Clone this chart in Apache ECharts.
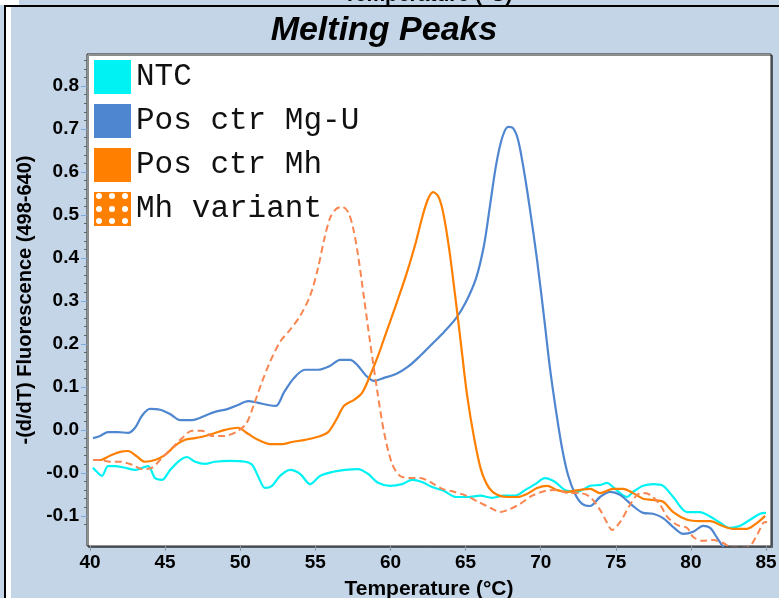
<!DOCTYPE html>
<html>
<head>
<meta charset="utf-8">
<script src="https://cdn.jsdelivr.net/npm/echarts@6/dist/echarts.min.js"></script>
<style>
html,body{margin:0;padding:0;background:#fff;}
#chart{width:779px;height:598px;}
</style>
</head>
<body>
<div id="chart"></div>
<script>
// ---- data (temperature °C, -(d/dT) fluorescence) ----
var seriesNames = ['NTC', 'Pos ctr Mg-U', 'Pos ctr Mh', 'Mh variant'];

var ntc = [
[40.2,-0.038],[40.47,-0.048],[40.8,-0.057],[41.2,-0.034],[41.66,-0.034],[42.33,-0.038],[43.0,-0.043],
[43.86,-0.034],[44.33,-0.062],[44.8,-0.066],[45.33,-0.043],[46.0,-0.020],[46.46,-0.013],[47.0,-0.024],
[47.66,-0.029],[48.32,-0.024],[49.32,-0.022],[50.32,-0.024],[50.79,-0.031],[51.18,-0.057],[51.65,-0.085],
[52.12,-0.080],[52.65,-0.057],[53.32,-0.043],[53.98,-0.052],[54.65,-0.076],[55.31,-0.057],[56.11,-0.048],
[56.98,-0.043],[57.84,-0.041],[58.5,-0.052],[59.17,-0.073],[59.97,-0.080],[60.77,-0.076],[61.44,-0.066],
[62.1,-0.071],[62.77,-0.083],[63.57,-0.092],[64.37,-0.106],[65.17,-0.106],[65.97,-0.103],[66.76,-0.108],
[67.56,-0.103],[68.3,-0.103],[68.96,-0.090],[69.63,-0.076],[70.29,-0.062],[70.96,-0.071],[71.62,-0.090],
[72.42,-0.094],[73.29,-0.080],[73.95,-0.078],[74.42,-0.073],[74.82,-0.083],[75.75,-0.106],[76.15,-0.094],
[76.82,-0.080],[77.48,-0.076],[78.15,-0.080],[78.82,-0.106],[79.75,-0.141],[80.6,-0.141],[81.3,-0.152],
[81.95,-0.166],[82.6,-0.178],[83.28,-0.173],[83.94,-0.159],[84.6,-0.145],[85.0,-0.143]
];

var posMgU = [
[40.2,0.031],[40.67,0.036],[41.2,0.045],[41.86,0.045],[42.53,0.043],[43.0,0.055],[43.46,0.083],[43.99,0.099],
[44.66,0.097],[45.33,0.087],[46.0,0.073],[46.8,0.073],[47.66,0.083],[48.32,0.092],[49.19,0.099],[49.85,0.108],
[50.52,0.117],[51.18,0.113],[51.85,0.108],[52.38,0.106],[52.92,0.138],[53.58,0.171],[54.31,0.190],[55.18,0.190],
[55.98,0.199],[56.64,0.213],[57.31,0.213],[57.84,0.199],[58.38,0.176],[58.91,0.164],[59.57,0.171],[60.37,0.180],
[61.17,0.197],[61.97,0.222],[62.77,0.250],[63.57,0.278],[64.37,0.310],[65.03,0.348],[65.7,0.403],[66.23,0.480],
[66.63,0.573],[67.03,0.666],[67.43,0.729],[67.83,0.755],[68.16,0.752],[68.5,0.724],[68.9,0.650],[69.29,0.562],
[69.76,0.445],[70.23,0.310],[70.63,0.190],[71.03,0.092],[71.42,0.008],[71.82,-0.055],[72.29,-0.099],[72.76,-0.122],
[73.29,-0.127],[73.95,-0.106],[74.62,-0.094],[75.28,-0.101],[76.15,-0.127],[76.82,-0.143],[77.48,-0.145],
[78.15,-0.155],[78.82,-0.176],[79.49,-0.192],[80.15,-0.187],[80.81,-0.173],[81.28,-0.178],[81.74,-0.201],
[82.14,-0.222],[82.5,-0.243]
];

var posMh = [
[40.2,-0.020],[40.67,-0.020],[41.33,-0.010],[42.0,-0.001],[42.53,0.001],[43.06,-0.010],[43.66,-0.024],[44.33,-0.020],
[45.0,-0.008],[45.66,0.013],[46.32,0.027],[46.99,0.031],[47.66,0.036],[48.32,0.043],[48.99,0.050],[49.85,0.055],
[50.52,0.041],[51.18,0.027],[51.98,0.017],[52.78,0.017],[53.45,0.022],[54.31,0.027],[55.18,0.034],[55.85,0.045],
[56.38,0.073],[56.91,0.106],[57.58,0.120],[58.11,0.136],[58.64,0.176],[59.17,0.222],[59.71,0.276],[60.37,0.341],
[61.04,0.410],[61.64,0.480],[62.1,0.543],[62.5,0.587],[62.84,0.603],[63.17,0.594],[63.5,0.557],[63.9,0.473],
[64.3,0.364],[64.7,0.248],[65.1,0.131],[65.57,0.031],[66.03,-0.043],[66.56,-0.085],[67.1,-0.101],[67.76,-0.106],
[68.43,-0.106],[69.09,-0.099],[69.76,-0.085],[70.43,-0.080],[71.09,-0.090],[71.76,-0.094],[72.49,-0.090],
[73.29,-0.087],[73.95,-0.097],[74.82,-0.087],[75.49,-0.087],[76.15,-0.097],[76.82,-0.110],[77.48,-0.113],
[78.15,-0.117],[78.82,-0.141],[79.75,-0.159],[80.6,-0.162],[81.3,-0.162],[81.95,-0.171],[82.81,-0.180],
[83.74,-0.180],[84.41,-0.166],[84.94,-0.150]
];

var mhVariant = [
[40.2,-0.020],[40.67,-0.020],[41.33,-0.024],[42.0,-0.024],[42.8,-0.031],[43.46,-0.041],[44.13,-0.038],[44.79,-0.015],
[45.46,0.008],[46.13,0.031],[46.79,0.048],[47.46,0.048],[48.12,0.036],[48.92,0.036],[49.72,0.045],[50.39,0.064],
[50.92,0.110],[51.45,0.162],[51.98,0.208],[52.65,0.255],[53.32,0.283],[53.98,0.315],[54.65,0.362],[55.18,0.427],
[55.58,0.492],[55.98,0.543],[56.38,0.564],[56.78,0.569],[57.18,0.557],[57.51,0.520],[57.84,0.457],[58.24,0.357],
[58.64,0.255],[59.11,0.143],[59.57,0.045],[60.11,-0.029],[60.64,-0.057],[61.3,-0.062],[61.97,-0.062],[62.64,-0.071],
[63.44,-0.087],[64.23,-0.094],[65.03,-0.103],[65.83,-0.117],[66.63,-0.131],[67.3,-0.141],[67.96,-0.134],
[68.63,-0.122],[69.43,-0.103],[70.29,-0.092],[71.09,-0.090],[71.82,-0.097],[72.62,-0.097],[73.29,-0.106],
[73.95,-0.136],[74.42,-0.166],[74.75,-0.183],[75.29,-0.164],[75.95,-0.124],[76.42,-0.101],[76.82,-0.097],
[77.28,-0.101],[77.95,-0.124],[78.42,-0.152],[79.08,-0.171],[79.75,-0.178],[80.15,-0.199],[80.81,-0.208],
[81.48,-0.206],[82.14,-0.213],[82.81,-0.224],[83.74,-0.224],[84.41,-0.194],[84.81,-0.166],[85.07,-0.164]
];

var xTicks = [40, 45, 50, 55, 60, 65, 70, 75, 80, 85];
var yTickValues = [-0.15, -0.05, 0.05, 0.15, 0.25, 0.35, 0.45, 0.55, 0.65, 0.75, 0.85];
var yTickLabels = ['-0.1', '-0.0', '0.0', '0.1', '0.2', '0.3', '0.4', '0.5', '0.6', '0.7', '0.8'];
var yMinorTicks = [];
for (var i = 0; i < yTickValues.length; i++) {
  for (var k = 1; k < 5; k++) { yMinorTicks.push(+(yTickValues[i] + k * 0.02).toFixed(3)); }
  yMinorTicks.push(+(yTickValues[i] - 0.02).toFixed(3));
}

var colors = ['#00F2F2', '#4F86D0', '#FF7F00', '#F98550'];
var BG = '#C3D5E7';

var dotSvg = "<svg xmlns='http://www.w3.org/2000/svg' width='37' height='34'><rect width='37' height='34' fill='#FF7F00'/>" +
  [5, 18, 31].map(function (cx) { return [4, 17, 29].map(function (cy) {
    return "<circle cx='" + cx + "' cy='" + cy + "' r='3' fill='#ffffff'/>"; }).join(''); }).join('') + "</svg>";
var dotIcon = 'image://data:image/svg+xml;utf8,' + encodeURIComponent(dotSvg);

var labelFont = { color: '#000', fontFamily: 'Liberation Sans, Arial', fontWeight: 'bold', fontSize: 19 };

var chart = echarts.init(document.getElementById('chart'), null, { renderer: 'canvas' });
chart.setOption({
  backgroundColor: BG,
  animation: false,
  title: {
    text: 'Melting Peaks', left: 379, top: 9, textAlign: 'center',
    textStyle: { fontFamily: 'Liberation Sans, Arial', fontWeight: 'bold', fontStyle: 'italic', fontSize: 34, color: '#000' }
  },
  grid: {
    left: 87, right: 8, top: 54, bottom: 52, show: true, containLabel: false, outerBoundsMode: 'none',
    backgroundColor: '#fff', borderColor: '#222', borderWidth: 1,
    shadowColor: 'rgba(0,0,0,0.45)', shadowOffsetX: 1.5, shadowOffsetY: 1.5, shadowBlur: 0
  },
  legend: {
    orient: 'vertical', left: 94, top: 60, padding: 0,
    itemWidth: 37, itemHeight: 34, itemGap: 10,
    textStyle: { fontFamily: 'Liberation Mono, Courier New, monospace', fontSize: 31, color: '#111' },
    data: [
      { name: seriesNames[0], icon: 'rect' },
      { name: seriesNames[1], icon: 'rect' },
      { name: seriesNames[2], icon: 'rect' },
      { name: seriesNames[3], icon: dotIcon }
    ]
  },
  xAxis: {
    type: 'value', min: 39.8, max: 85.33,
    name: 'Temperature (°C)', nameLocation: 'middle', nameGap: 33,
    nameTextStyle: { color: '#000', fontFamily: 'Liberation Sans, Arial', fontWeight: 'bold', fontSize: 21 },
    axisLine: { show: false, onZero: false },
    axisTick: { show: true, customValues: xTicks, length: 5, lineStyle: { color: '#8a99aa' } },
    axisLabel: Object.assign({ customValues: xTicks, margin: 7 }, labelFont),
    splitLine: { show: false }
  },
  yAxis: [{
    type: 'value', min: -0.22, max: 0.9244,
    name: '-(d/dT) Fluorescence (498-640)', nameLocation: 'middle', nameGap: 42,
    nameTextStyle: { color: '#000', fontFamily: 'Liberation Sans, Arial', fontWeight: 'bold', fontSize: 20 },
    axisLine: { show: false, onZero: false },
    axisTick: { show: true, customValues: yTickValues, length: 6, lineStyle: { color: '#7FA9D6' } },
    axisLabel: Object.assign({
      customValues: yTickValues, margin: 8,
      formatter: function (v) {
        for (var j = 0; j < yTickValues.length; j++) { if (Math.abs(yTickValues[j] - v) < 1e-6) return yTickLabels[j]; }
        return '';
      }
    }, labelFont),
    splitLine: { show: false }
  }, {
    type: 'value', min: -0.22, max: 0.9244, position: 'left',
    axisLine: { show: false, onZero: false },
    axisTick: { show: true, customValues: yMinorTicks, length: 3, lineStyle: { color: '#666' } },
    axisLabel: { show: false },
    splitLine: { show: false }
  }],
  graphic: [
    { type: 'rect', shape: { x: 0, y: 0, width: 19, height: 5 }, style: { fill: '#fff' }, silent: true },
    { type: 'text', x: 428, y: -5, style: { text: 'Temperature (°C)', fill: '#000', font: 'bold 21px Liberation Sans, Arial', textAlign: 'center', textVerticalAlign: 'middle' }, silent: true },
    { type: 'rect', shape: { x: 4, y: 5, width: 775, height: 2 }, style: { fill: '#000' }, silent: true },
    { type: 'rect', shape: { x: 4, y: 5, width: 2, height: 593 }, style: { fill: '#000' }, silent: true },
    { type: 'rect', shape: { x: 6, y: 7, width: 5, height: 591 }, style: { fill: '#fff' }, silent: true }
  ],
  series: [
    { name: seriesNames[0], type: 'line', data: ntc, showSymbol: false, smooth: 0.3, clip: true,
      itemStyle: { color: colors[0] }, lineStyle: { width: 2.2, color: colors[0] } },
    { name: seriesNames[1], type: 'line', data: posMgU, showSymbol: false, smooth: 0.3, clip: true,
      itemStyle: { color: colors[1] }, lineStyle: { width: 2.2, color: colors[1] } },
    { name: seriesNames[2], type: 'line', data: posMh, showSymbol: false, smooth: 0.3, clip: true,
      itemStyle: { color: colors[2] }, lineStyle: { width: 2.2, color: colors[2] } },
    { name: seriesNames[3], type: 'line', data: mhVariant, showSymbol: false, smooth: 0.3, clip: true,
      itemStyle: { color: '#FF7F00' }, lineStyle: { width: 2, color: colors[3], type: [7, 4] } }
  ]
});
</script>
</body>
</html>
